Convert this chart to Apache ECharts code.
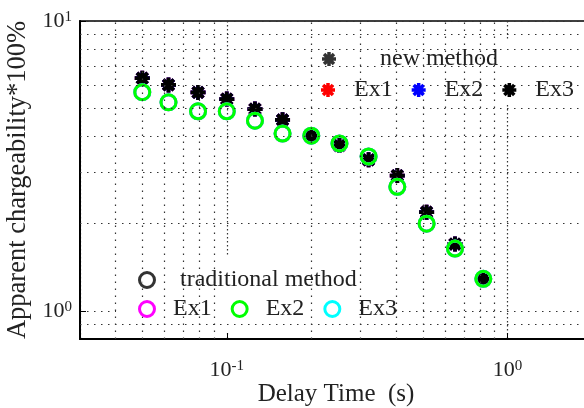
<!DOCTYPE html>
<html>
<head>
<meta charset="utf-8">
<script src="https://cdn.jsdelivr.net/npm/echarts@6/dist/echarts.min.js"></script>
<style>
  html, body { margin: 0; padding: 0; background: #fff; }
  #chart { width: 584px; height: 408px; }
</style>
</head>
<body>
<div id="chart"></div>
<script>
// Delay times of the gates (s)
const delayTime = [0.05, 0.062, 0.079, 0.1, 0.126, 0.158, 0.2, 0.252, 0.32, 0.405, 0.515, 0.65, 0.82];
// Apparent chargeability (%) from the new method (Ex1, Ex2, Ex3 coincide)
const newMethod = [6.35, 6.02, 5.67, 5.38, 4.97, 4.56, 4.02, 3.72, 3.32, 2.93, 2.19, 1.70, 1.29];
// Apparent chargeability (%) from the traditional method (Ex1, Ex2, Ex3 coincide)
const traditionalMethod = [5.68, 5.24, 4.88, 4.88, 4.53, 4.09, 4.02, 3.78, 3.41, 2.68, 2.00, 1.64, 1.29];

// Minor grid positions of the log axes
const xMinorGrid = [0.04, 0.05, 0.06, 0.07, 0.08, 0.09, 0.2, 0.3, 0.4, 0.5, 0.6, 0.7, 0.8, 0.9];
const yMinorGrid = [0.9, 2, 3, 4, 5, 6, 7, 8, 9];

const SERIF = '"Liberation Serif", "Times New Roman", serif';
const TEXT = '#222';

// Eight-spoke asterisk marker
function asterisk(hw) {
  let d = 'path://';
  [0, 45, 90, 135].forEach(function (deg) {
    const a = deg * Math.PI / 180;
    const ux = Math.cos(a), uy = Math.sin(a);
    const px = -uy * hw, py = ux * hw;
    const pts = [
      [ux - px, uy - py],
      [ux + px, uy + py],
      [-ux + px, -uy + py],
      [-ux - px, -uy - py]
    ];
    d += 'M' + pts.map(function (p) { return p[0].toFixed(3) + ',' + p[1].toFixed(3); }).join('L') + 'Z';
  });
  return d;
}
const STAR = asterisk(0.25);

function pairs(values) {
  return delayTime.map(function (t, i) { return [t, values[i]]; });
}

function powerLabel(value) {
  const e = Math.log10(value);
  if (Math.abs(e - Math.round(e)) > 1e-6) return '';
  return '{b|10}{s|' + Math.round(e) + '}';
}
const labelRich = {
  b: { fontFamily: SERIF, fontSize: 22, color: TEXT, lineHeight: 22 },
  s: { fontFamily: SERIF, fontSize: 15, color: TEXT, lineHeight: 15, verticalAlign: 'top' }
};

const dotted = { color: '#333', width: 1.2, type: [1.5, 5.5] };

function starSeries(name, color, z) {
  return {
    name: name, type: 'scatter', data: pairs(newMethod),
    symbol: STAR, symbolSize: 15, z: z,
    itemStyle: { color: color, opacity: 1 },
    emphasis: { disabled: true }
  };
}
function circleSeries(name, color, z) {
  return {
    name: name, type: 'scatter', data: pairs(traditionalMethod),
    symbol: 'circle', symbolSize: 15, z: z,
    itemStyle: { color: 'rgba(0,0,0,0)', borderColor: color, borderWidth: 3, opacity: 1 },
    emphasis: { disabled: true }
  };
}

const legendText = { fontFamily: SERIF, fontSize: 24, color: TEXT };

const option = {
  animation: false,
  backgroundColor: '#fff',
  grid: {
    left: 80, top: 21, width: 512, height: 318,
    outerBoundsMode: 'none', containLabel: false,
    show: true, borderColor: '#000', borderWidth: 1.5, backgroundColor: 'transparent'
  },
  xAxis: {
    type: 'log', logBase: 10, min: 0.03, max: 2,
    name: 'Delay Time  (s)', nameLocation: 'middle', nameGap: 43, nameMoveOverlap: false,
    nameTextStyle: { fontFamily: SERIF, fontSize: 25, color: TEXT },
    axisLine: { show: true, lineStyle: { color: '#000', width: 2 } },
    axisTick: { show: true, inside: true, length: 6, lineStyle: { color: '#000', width: 1 } },
    axisLabel: { formatter: powerLabel, rich: labelRich, margin: 20 },
    splitLine: { show: true, lineStyle: { color: '#333', width: 1.2, type: [1.5, 2.5] } }
  },
  yAxis: {
    type: 'log', logBase: 10, min: 0.8, max: 10,
    name: 'Apparent chargeability*100%', nameLocation: 'middle', nameGap: 48,
    nameTextStyle: { fontFamily: SERIF, fontSize: 26.5, color: TEXT },
    axisLine: { show: true, lineStyle: { color: '#000', width: 2 } },
    axisTick: { show: true, inside: true, length: 6, lineStyle: { color: '#000', width: 1 } },
    axisLabel: { formatter: powerLabel, rich: labelRich, margin: 8 },
    splitLine: { show: true, lineStyle: dotted }
  },
  // legend "left" is the left edge of the first visible icon
  legend: [
    {
      data: [{ name: 'new method', icon: STAR, itemStyle: { color: '#000' } }],
      left: 322, top: 47, padding: 0, itemWidth: 92, itemHeight: 14,
      textStyle: legendText, selectedMode: false, z: 10
    },
    {
      data: [
        { name: 'new Ex1', icon: STAR, itemStyle: { color: '#ff0000' } },
        { name: 'new Ex2', icon: STAR, itemStyle: { color: '#0000ff' } },
        { name: 'new Ex3', icon: STAR, itemStyle: { color: '#000000' } }
      ],
      formatter: function (n) { return n.replace('new ', ''); },
      left: 321, top: 78, padding: 0, itemWidth: 42, itemHeight: 14, itemGap: 19,
      textStyle: legendText, selectedMode: false, z: 10
    },
    {
      data: [{ name: 'traditional method', icon: 'circle', itemStyle: { color: '#fff', borderColor: '#000', borderWidth: 3 } }],
      left: 138, top: 268, padding: 0, itemWidth: 56, itemHeight: 15,
      textStyle: legendText, selectedMode: false, z: 10
    },
    {
      data: [
        { name: 'traditional Ex1', icon: 'circle', itemStyle: { color: '#fff', borderColor: '#ff00ff', borderWidth: 3 } },
        { name: 'traditional Ex2', icon: 'circle', itemStyle: { color: '#fff', borderColor: '#00ff00', borderWidth: 3 } },
        { name: 'traditional Ex3', icon: 'circle', itemStyle: { color: '#fff', borderColor: '#00ffff', borderWidth: 3 } }
      ],
      formatter: function (n) { return n.replace('traditional ', ''); },
      left: 138, top: 297, padding: 0, itemWidth: 42, itemHeight: 15, itemGap: 19,
      textStyle: legendText, selectedMode: false, z: 10
    }
  ],
  graphic: [
    { type: 'rect', z: 5, silent: true, shape: { x: 305, y: 40, width: 290, height: 64 }, style: { fill: '#fff' } },
    { type: 'rect', z: 5, silent: true, shape: { x: 116, y: 257, width: 276, height: 76 }, style: { fill: '#fff' } }
  ],
  series: [
    {
      name: 'new method', type: 'scatter', data: [], symbol: STAR, itemStyle: { color: '#000' },
      markLine: {
        silent: true, symbol: ['none', 'none'], label: { show: false },
        lineStyle: dotted, emphasis: { disabled: true },
        data: xMinorGrid.map(function (v) { return { xAxis: v }; })
          .concat(yMinorGrid.map(function (v) { return { yAxis: v }; }))
      }
    },
    { name: 'traditional method', type: 'scatter', data: [], symbol: 'circle',
      itemStyle: { color: '#fff', borderColor: '#000', borderWidth: 3 } },
    starSeries('new Ex1', '#ff0000', 3),
    starSeries('new Ex2', '#0000ff', 3),
    starSeries('new Ex3', '#000000', 3),
    circleSeries('traditional Ex1', '#ff00ff', 4),
    circleSeries('traditional Ex3', '#00ffff', 4),
    circleSeries('traditional Ex2', '#00ff00', 4)
  ]
};

const chart = echarts.init(document.getElementById('chart'), null, { renderer: 'canvas' });
chart.setOption(option);
</script>
</body>
</html>
